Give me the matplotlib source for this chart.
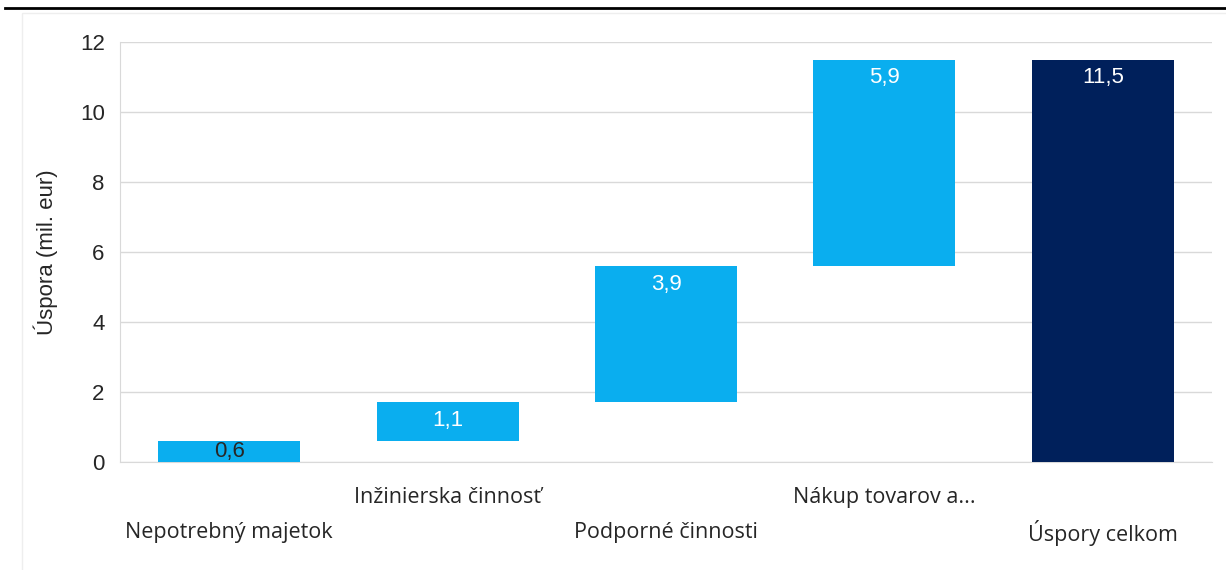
import matplotlib
matplotlib.use("Agg")
import matplotlib.pyplot as plt
import numpy as np

kategorie = ["Nepotrebný majetok", "Inžinierska činnosť", "Podporné činnosti",
             "Nákup tovarov a...", "Úspory celkom"]
uspora = [0.6, 1.1, 3.9, 5.9]
celkom = 11.5
popisky = ["0,6", "1,1", "3,9", "5,9", "11,5"]

BLUE = "#0aaeef"; NAVY = "#00205b"; GRID = "#d9d9d9"; TXT = "#262626"
ARIAL = ["Liberation Sans", "DejaVu Sans"]

plt.rcParams["font.family"] = ["Open Sans", "DejaVu Sans"]

fig = plt.figure(figsize=(12.26, 5.7), dpi=100)
ax = fig.add_axes([0.0979, 0.1895, 0.8907, 0.7368])

# waterfall: kazdy stlpec zacina tam, kde skoncil predosly
base = np.concatenate([[0], np.cumsum(uspora)[:-1]])
x = np.arange(len(kategorie))
ax.bar(x[:-1], uspora, bottom=base, width=0.65, color=BLUE, zorder=3)
ax.bar(x[-1], celkom, width=0.65, color=NAVY, zorder=3)

bottoms = list(base) + [0]
heights = list(uspora) + [celkom]
for i, (b, h, lab) in enumerate(zip(bottoms, heights, popisky)):
    if h < 1:  # maly stlpec: popisok do stredu, tmavy
        ax.text(x[i], b + h / 2, lab, ha="center", va="center", fontsize=16,
                color=TXT, family=ARIAL, zorder=4)
    else:
        ax.text(x[i], b + h - 0.22, lab, ha="center", va="top", fontsize=16,
                color="white", family=ARIAL, zorder=4)

ax.set_xlim(-0.5, 4.5)
ax.set_ylim(0, 12)
ax.set_yticks(range(0, 13, 2))
ax.yaxis.grid(True, color=GRID, linewidth=1, zorder=0)
ax.set_axisbelow(True)
for s in ("top", "right"):
    ax.spines[s].set_visible(False)
for s in ("left", "bottom"):
    ax.spines[s].set_color(GRID)
ax.tick_params(axis="y", length=0, labelsize=16, labelcolor=TXT, pad=11)
for t in ax.get_yticklabels():
    t.set_family(ARIAL)
ax.set_ylabel("Úspora (mil. eur)", fontsize=16, color=TXT, labelpad=16,
              family=ARIAL)

# popisky kategorii striedavo v dvoch radoch
ax.set_xticks(x)
ax.set_xticklabels([])
ax.tick_params(axis="x", length=0)
for i, k in enumerate(kategorie):
    dy = -2.02 if i % 2 == 0 else -1.02
    ax.text(x[i], dy, k, ha="center", va="center", fontsize=15.5, color=TXT,
            clip_on=False)

# slabe oramovanie oblasti grafu
fig.add_artist(plt.Rectangle((0.018, -0.01), 1.0, 0.987, fill=False,
                             edgecolor="#eeeeee", linewidth=1,
                             transform=fig.transFigure))

# odrezany nadpis a cierna ciara nad grafom
fig.text(0.355, 1.012, "Prehľad hodnoty úspor (mil. eur)", ha="right",
         va="baseline", fontsize=16, fontweight="bold", color="black")
fig.add_artist(plt.Line2D([0.004, 1.0], [0.986, 0.986], color="black",
                          linewidth=2, transform=fig.transFigure))

fig.savefig("out.png", dpi=100, facecolor="white")
